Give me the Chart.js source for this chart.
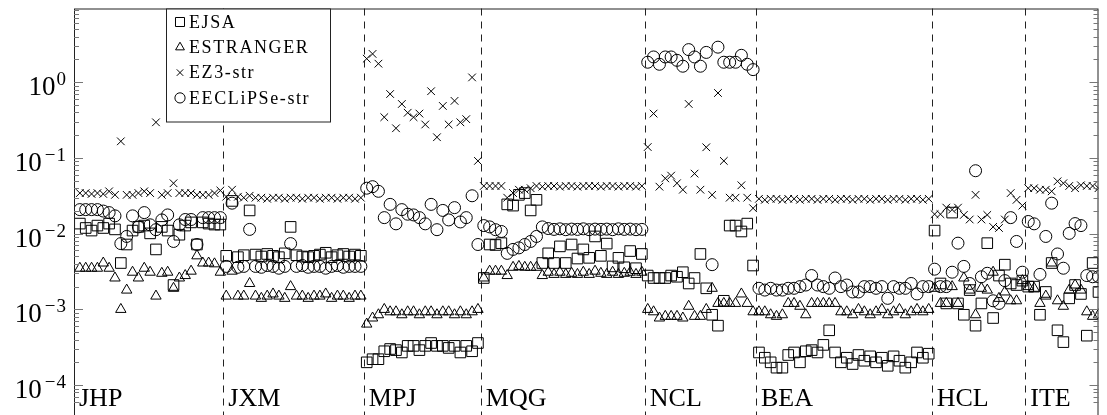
<!DOCTYPE html>
<html>
<head>
<meta charset="utf-8">
<script src="https://cdn.jsdelivr.net/npm/chart.js@4.4.1/dist/chart.umd.min.js"></script>
<style>
  html, body { margin: 0; padding: 0; background: #fff; overflow: hidden; }
  #wrap { width: 1107px; height: 415px; position: relative; }
</style>
</head>
<body>
<div id="wrap"><canvas id="chart"></canvas></div>
<script>
// groups along the x axis, in order, with the number of points in each
const groups = ["JHP", "JXM", "MPJ", "MQG", "NCL", "BEA", "HCL", "ITE"];
const groupSizes = [25, 24, 20, 28, 19, 30, 16, 13];

// EJSA (squares)
const ejsa = [
  // JHP
  0.0136, 0.0119, 0.011, 0.0128, 0.0119, 0.0136, 0.0114, 0.0041, 0.0072, 0.011, 0.0123, 0.0128, 0.0101,
  0.0062, 0.0123, 0.011, 0.0021, 0.0097, 0.0128, 0.0141, 0.0072, 0.0141, 0.0136, 0.0132, 0.0132,
  // JXM
  0.0051, 0.0271, 0.0049, 0.0052, 0.0203, 0.0053, 0.005, 0.0054, 0.0051, 0.0049, 0.0055, 0.0123,
  0.0052, 0.005, 0.0049, 0.0051, 0.0053, 0.0056, 0.0049, 0.0052, 0.0054, 0.005, 0.0053, 0.0051,
  // MPJ
  0.0002, 0.00022, 0.00022, 0.00028, 0.0003, 0.00029, 0.00027, 0.00033, 0.00033, 0.00029,
  0.00033, 0.00036, 0.00033, 0.00033, 0.00031, 0.00033, 0.00027, 0.00033, 0.00028, 0.00036,
  // MQG
  0.0026, 0.0072, 0.0071, 0.0075, 0.0244, 0.0235, 0.0326, 0.0344, 0.0203, 0.028, 0.0041, 0.0055, 0.0041, 0.0068,
  0.0041, 0.0072, 0.0047, 0.0062, 0.0048, 0.0092, 0.0051, 0.0074, 0.0037, 0.0048, 0.0036, 0.0059, 0.0035, 0.0054,
  // NCL
  0.0028, 0.0026, 0.0026, 0.0026, 0.0028, 0.0027, 0.0031, 0.0022, 0.0026, 0.0054, 0.0019, 0.00085,
  0.00061, 0.0013, 0.0128, 0.0128, 0.0107, 0.0136, 0.0038,
  // BEA
  0.00027, 0.00023, 0.0002, 0.00017, 0.00017, 0.00025, 0.00027, 0.0002, 0.00028, 0.00029,
  0.00027, 0.00034, 0.00053, 0.00027, 0.0002, 0.00023, 0.00019, 0.00025, 0.00021, 0.00024,
  0.0002, 0.00023, 0.00018, 0.00024, 0.00021, 0.00017, 0.0002, 0.00027, 0.00023, 0.00026,
  // HCL
  0.011, 0.0022, 0.0012, 0.019, 0.0012, 0.00085, 0.0018, 0.00061, 0.0012, 0.0075, 0.00077, 0.0028,
  0.0039, 0.0022, 0.0021, 0.0024,
  // ITE
  0.002, 0.002, 0.00085, 0.0017, 0.0041, 0.00053, 0.00037, 0.0014, 0.0021, 0.0016, 0.00045, 0.0041, 0.0017
];

// ESTRANGER (triangles)
const estranger = [
  // JHP
  0.0035, 0.0035, 0.0035, 0.0035, 0.0041, 0.0035, 0.0026, 0.001, 0.0018, 0.0031, 0.0026, 0.0035, 0.0031,
  0.0015, 0.003, 0.0031, 0.0019, 0.0026, 0.0028, 0.0032, 0.0051, 0.0041, 0.0041, 0.004, 0.0031,
  // JXM
  0.0015, 0.0032, 0.0015, 0.0015, 0.0022, 0.0015, 0.0014, 0.0015, 0.0016, 0.0015, 0.0014, 0.002,
  0.0015, 0.0015, 0.0014, 0.0015, 0.0015, 0.0016, 0.0014, 0.0015, 0.0015, 0.0014, 0.0015, 0.0015,
  // MPJ
  0.00064, 0.00077, 0.00085, 0.001, 0.00093, 0.00093, 0.00085, 0.00093, 0.00093, 0.00085,
  0.00093, 0.00093, 0.00085, 0.00093, 0.00093, 0.00085, 0.00093, 0.00085, 0.00093, 0.001,
  // MQG
  0.0026, 0.0032, 0.0032, 0.0032, 0.0028, 0.0036, 0.0037, 0.0036, 0.0036, 0.0036, 0.0028, 0.0031, 0.0029, 0.0031,
  0.0029, 0.003, 0.0029, 0.0031, 0.0029, 0.0032, 0.003, 0.0029, 0.0031, 0.0029, 0.003, 0.0031, 0.0029, 0.0031,
  // NCL
  0.001, 0.00093, 0.00077, 0.00081, 0.00081, 0.00081, 0.00077, 0.0011, 0.00081, 0.00081, 0.001, 0.0019,
  0.0012, 0.0012, 0.0012, 0.0012, 0.0016, 0.0012, 0.00093,
  // BEA
  0.00093, 0.00093, 0.00085, 0.00081, 0.00085, 0.0012, 0.0012, 0.0011, 0.00085, 0.0012, 0.0012, 0.0012,
  0.0012, 0.0012, 0.00093, 0.00093, 0.00085, 0.001, 0.00093, 0.00085, 0.00093, 0.001, 0.00085, 0.00093,
  0.001, 0.00085, 0.00093, 0.001, 0.00093, 0.001,
  // HCL
  0.0019, 0.0012, 0.0012, 0.002, 0.0012, 0.0026, 0.0018, 0.00085, 0.0019, 0.0018, 0.0031, 0.0014,
  0.0017, 0.0013, 0.0013, 0.0024,
  // ITE
  0.002, 0.0019, 0.0012, 0.0015, 0.0041, 0.0013, 0.0011, 0.0018, 0.0021, 0.0018, 0.00093, 0.00081, 0.00085
];

// EZ3-str (crosses)
const ez3 = [
  // JHP
  0.0344, 0.0344, 0.0335, 0.0344, 0.0335, 0.0363, 0.0326, 0.166, 0.0326, 0.0326, 0.0344, 0.0363, 0.0344,
  0.296, 0.0326, 0.0344, 0.0464, 0.0344, 0.0344, 0.0344, 0.0326, 0.0326, 0.0326, 0.0344, 0.0372,
  // JXM
  0.0308, 0.0381, 0.0308, 0.0299, 0.0317, 0.0299, 0.0299, 0.0289, 0.0299, 0.0299, 0.0289, 0.0299,
  0.0299, 0.0289, 0.0299, 0.0299, 0.0289, 0.0299, 0.0299, 0.0289, 0.0299, 0.0299, 0.0289, 0.0299,
  // MPJ
  2.05, 2.37, 1.76, 0.346, 0.70, 0.247, 0.517, 0.396, 0.346, 0.386,
  0.277, 0.762, 0.188, 0.487, 0.277, 0.568, 0.296, 0.326, 1.16, 0.0915,
  // MQG
  0.0427, 0.0427, 0.0427, 0.0427, 0.0299, 0.0344, 0.0381, 0.0381, 0.0399, 0.0427, 0.0418, 0.0427, 0.0427, 0.0418,
  0.0427, 0.0427, 0.0418, 0.0427, 0.0427, 0.0427, 0.0418, 0.0427, 0.0427, 0.0418, 0.0427, 0.0427, 0.0418, 0.0427,
  // NCL
  0.1395, 0.386, 0.0418, 0.0538, 0.0585, 0.0464, 0.0381, 0.517, 0.0622, 0.0381, 0.1385, 0.0326,
  0.722, 0.0915, 0.0299, 0.0299, 0.0436, 0.0299, 0.0217,
  // BEA
  0.0289, 0.028, 0.0289, 0.0289, 0.028, 0.0289, 0.0289, 0.028, 0.0289, 0.0289, 0.028, 0.0289,
  0.0289, 0.028, 0.0289, 0.0289, 0.028, 0.0289, 0.0289, 0.028, 0.0289, 0.0289, 0.028, 0.0289,
  0.0289, 0.028, 0.0289, 0.0289, 0.028, 0.0289,
  // HCL
  0.0181, 0.0181, 0.0221, 0.0208, 0.0221, 0.0177, 0.0154, 0.0326, 0.0154, 0.0177, 0.0123, 0.0119,
  0.0154, 0.0344, 0.028, 0.0235,
  // ITE
  0.0399, 0.0399, 0.0381, 0.0381, 0.0363, 0.0492, 0.0464, 0.0427, 0.0399, 0.0436, 0.0427, 0.0427, 0.0399
];

// EECLiPSe-str (circles)
const eeclipse = [
  // JHP
  0.0208, 0.0208, 0.0208, 0.0208, 0.0199, 0.019, 0.0172, 0.0074, 0.0092, 0.0172, 0.0123, 0.019, 0.0131,
  0.0113, 0.0152, 0.0177, 0.0079, 0.0131, 0.0154, 0.0154, 0.0072, 0.0163, 0.0163, 0.0163, 0.0163,
  // JXM
  0.0037, 0.0253, 0.0036, 0.0037, 0.0114, 0.0037, 0.0036, 0.0038, 0.0037, 0.0035, 0.0037, 0.0074,
  0.0037, 0.0038, 0.0036, 0.0037, 0.0037, 0.0035, 0.0037, 0.0038, 0.0036, 0.0037, 0.0037, 0.0037,
  // MPJ
  0.0399, 0.0418, 0.0363, 0.0163, 0.0244, 0.0135, 0.0208, 0.0181, 0.0177, 0.0163,
  0.0135, 0.0244, 0.0113, 0.0203, 0.0152, 0.0221, 0.0143, 0.0163, 0.0317, 0.0072,
  // MQG
  0.0128, 0.0123, 0.0113, 0.0107, 0.0055, 0.0062, 0.0065, 0.0072, 0.0079, 0.0092, 0.0123, 0.0117, 0.0114, 0.0116,
  0.0113, 0.0115, 0.0114, 0.0116, 0.0113, 0.0115, 0.0114, 0.0115, 0.0113, 0.0116, 0.0114, 0.0115, 0.0113, 0.0114,
  // NCL
  1.84, 2.16, 1.73, 2.16, 2.16, 1.95, 1.63, 2.7, 2.16, 1.63, 2.48, 0.0039,
  2.91, 1.84, 1.84, 1.84, 2.27, 1.73, 1.47,
  // BEA
  0.0019, 0.0018, 0.0019, 0.0018, 0.0018, 0.0019, 0.0019, 0.002, 0.0021, 0.0028, 0.0021, 0.002,
  0.0019, 0.0026, 0.002, 0.0021, 0.0017, 0.0017, 0.002, 0.002, 0.0019, 0.002, 0.0014, 0.002,
  0.0019, 0.0019, 0.0022, 0.0016, 0.002, 0.002,
  // HCL
  0.0034, 0.002, 0.002, 0.0031, 0.0075, 0.0037, 0.0022, 0.0679, 0.0027, 0.003, 0.0013, 0.0012,
  0.0024, 0.0163, 0.0079, 0.0031,
  // ITE
  0.0145, 0.0135, 0.0029, 0.0092, 0.0253, 0.0054, 0.0035, 0.0101, 0.0136, 0.0128, 0.0028, 0.0027, 0.0027
];

const yTickExponents = [0, -1, -2, -3, -4];

const series = [
  { label: "EJSA", data: ejsa, style: "rect", radius: 7.5 },
  { label: "ESTRANGER", data: estranger, style: "triangle", radius: 6 },
  { label: "EZ3-str", data: ez3, style: "crossRot", radius: 5.4 },
  { label: "EECLiPSe-str", data: eeclipse, style: "circle", radius: 6 }
];

const SERIF = "'Liberation Serif', 'DejaVu Serif', serif";

// legend mark, same geometry Chart.js uses for the point styles
function drawMark(ctx, style, x, y, r) {
  ctx.beginPath();
  if (style === "rect") {
    const s = r * Math.SQRT1_2;
    ctx.rect(x - s, y - s, 2 * s, 2 * s);
  } else if (style === "triangle") {
    ctx.moveTo(x, y - r);
    ctx.lineTo(x + 0.866 * r, y + 0.5 * r);
    ctx.lineTo(x - 0.866 * r, y + 0.5 * r);
    ctx.closePath();
  } else if (style === "crossRot") {
    const s = r * Math.SQRT1_2;
    ctx.moveTo(x - s, y - s); ctx.lineTo(x + s, y + s);
    ctx.moveTo(x + s, y - s); ctx.lineTo(x - s, y + s);
  } else {
    ctx.arc(x, y, r, 0, Math.PI * 2);
  }
  ctx.stroke();
}

const decorations = {
  id: "decorations",
  beforeDatasetsDraw(chart) {
    const { ctx, chartArea, scales } = chart;
    // dashed separators between groups
    ctx.save();
    ctx.strokeStyle = "#222";
    ctx.lineWidth = 1;
    ctx.setLineDash([7, 6]);
    let c = 0;
    for (let g = 0; g < groupSizes.length - 1; g++) {
      c += groupSizes[g];
      const x = Math.round(scales.x.getPixelForValue(c - 0.5)) + 0.5;
      ctx.beginPath();
      ctx.moveTo(x, chartArea.top);
      ctx.lineTo(x, chartArea.bottom + 10);
      ctx.stroke();
    }
    ctx.restore();
  },
  afterDatasetsDraw(chart) {
    const { ctx, chartArea, scales } = chart;
    const y = scales.y;
    ctx.save();

    // frame
    ctx.strokeStyle = "#222";
    ctx.lineWidth = 1;
    ctx.strokeRect(chartArea.left + 0.5, chartArea.top + 0.5,
      chartArea.right - chartArea.left - 1, chartArea.bottom - chartArea.top + 20);

    // inward log ticks on both sides
    ctx.strokeStyle = "#777";
    for (let k = -5; k <= 0; k++) {
      for (let m = 1; m <= 9; m++) {
        const v = m * Math.pow(10, k);
        if (v < y.min || v > y.max) continue;
        const py = Math.round(y.getPixelForValue(v)) + 0.5;
        const len = m === 1 ? 9 : 5;
        ctx.beginPath();
        ctx.moveTo(chartArea.left, py); ctx.lineTo(chartArea.left + len, py);
        ctx.moveTo(chartArea.right, py); ctx.lineTo(chartArea.right - len, py);
        ctx.stroke();
      }
    }

    // tick labels 10^k (minus drawn separately, it is wide in the original)
    ctx.fillStyle = "#000";
    ctx.textBaseline = "alphabetic";
    ctx.textAlign = "right";
    yTickExponents.forEach(e => {
      const py = y.getPixelForValue(Math.pow(10, e));
      const base = py + 13;
      let right = 66;
      ctx.font = "19px " + SERIF;
      const digit = String(Math.abs(e));
      ctx.fillText(digit, right, base - 10);
      right -= ctx.measureText(digit).width;
      if (e < 0) {
        right -= 1;
        ctx.fillText("\u2212", right, base - 10);
        right -= ctx.measureText("\u2212").width + 2;
      }
      ctx.font = "27px " + SERIF;
      ctx.fillText("10", right - 1, base);
    });

    // group names
    ctx.font = "26px " + SERIF;
    ctx.textAlign = "left";
    let c = 0;
    groups.forEach((name, g) => {
      const x0 = g === 0 ? chartArea.left : scales.x.getPixelForValue(c - 0.5);
      ctx.fillText(name, x0 + 5, 406);
      c += groupSizes[g];
    });

    // legend
    const lx = 166.5, ly = chartArea.top + 0.5, lw = 164, lh = 113;
    ctx.fillStyle = "#fff";
    ctx.fillRect(lx, ly, lw, lh);
    ctx.strokeStyle = "#222";
    ctx.strokeRect(lx, ly, lw, lh);
    ctx.fillStyle = "#000";
    ctx.font = "18px " + SERIF;
    ctx.letterSpacing = "1.6px";
    series.forEach((s, i) => {
      const cy = 22 + i * 25.3;
      ctx.strokeStyle = "#000";
      drawMark(ctx, s.style, 180, cy, s.radius * 0.85);
      ctx.textBaseline = "middle";
      ctx.fillText(s.label, 189, cy + 1);
    });
    ctx.restore();
  }
};

const datasets = series.map(s => ({
  label: s.label,
  data: s.data.map((v, i) => ({ x: i, y: v })),
  pointStyle: s.style,
  pointRadius: s.radius,
  pointHoverRadius: s.radius,
  pointBorderWidth: 1,
  pointBorderColor: "#000",
  pointBackgroundColor: "rgba(0,0,0,0)",
  showLine: false
}));

const totalPoints = groupSizes.reduce((a, b) => a + b, 0);

new Chart(document.getElementById("chart").getContext("2d"), {
  type: "scatter",
  data: { datasets },
  options: {
    responsive: true,
    maintainAspectRatio: false,
    animation: false,
    layout: { padding: { left: 74, right: 1, top: 5, bottom: 0 } },
    plugins: { legend: { display: false }, tooltip: { enabled: false } },
    scales: {
      x: { type: "linear", min: -1, max: totalPoints - 1, display: false },
      y: { type: "logarithmic", min: 5.22e-5, max: 9.43, display: false }
    }
  },
  plugins: [decorations]
});
</script>
</body>
</html>
